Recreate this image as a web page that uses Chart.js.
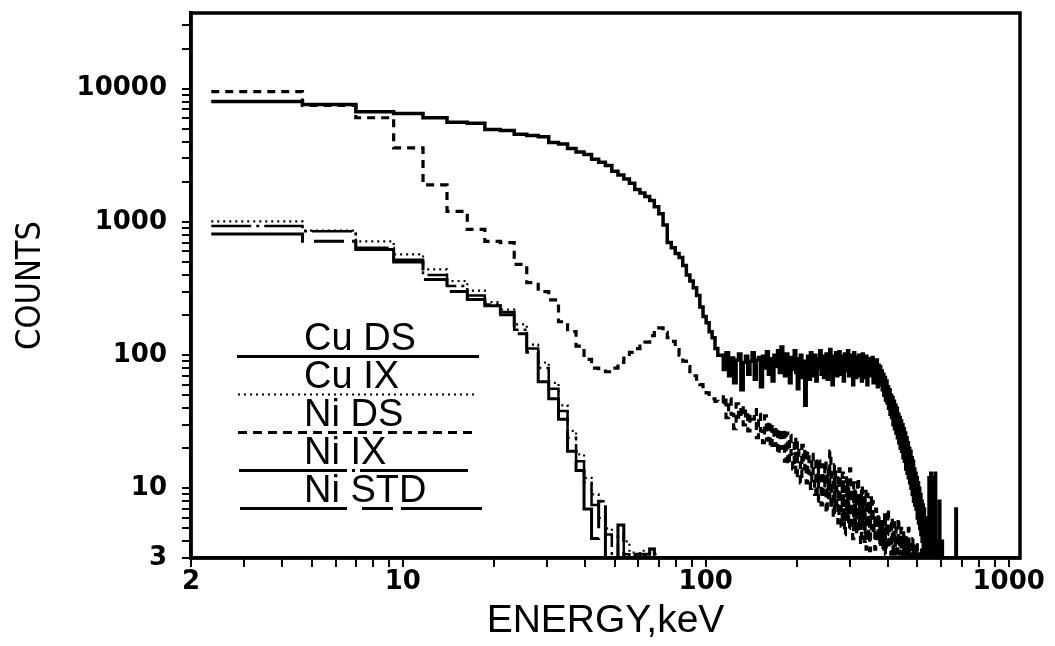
<!DOCTYPE html>
<html>
<head>
<meta charset="utf-8">
<script src="https://cdn.jsdelivr.net/npm/chart.js@4.4.0/dist/chart.umd.min.js"></script>
<style>
html,body{margin:0;padding:0;background:#fff;}
#wrap{width:1055px;height:646px;position:relative;}
</style>
</head>
<body>
<div id="wrap"><canvas id="c" width="1055" height="646"></canvas></div>
<script>
// ---- DATA (histogram bins, each BIN_WIDTH_KEV wide, first bin starts at FIRST_BIN*BIN_WIDTH_KEV) ----
const BIN_WIDTH_KEV = 2.333;
const FIRST_BIN = 1;

const SERIES_NAMES = ['Cu DS', 'Cu IX', 'Ni DS', 'Ni IX', 'Ni STD'];

const cuDS = [
  8000, 7600, 6700, 6500, 6050, 5600, 5500, 4950, 4850, 4550,
  4450, 4350, 3950, 3850, 3550, 3350, 3200, 2950, 2800, 2650,
  2400, 2250, 2100, 1950, 1750, 1650, 1550, 1450, 1300, 1150,
  950, 700, 640, 580, 540, 470, 400, 360, 320, 280,
  230, 195, 175, 150, 135, 112, 100,
  100, 78, 104, 70, 95, 62, 92, 102, 55, 88, 98, 72, 90,
  104, 66, 92, 96, 58, 98, 80, 106, 72, 94, 64, 100, 82, 108, 74,
  115, 80, 70, 102, 90, 62, 96, 78, 108, 74, 56, 94, 100, 68, 90,
  42, 88, 98, 66, 104, 84, 70, 100, 64, 94, 80, 108, 72, 98, 68,
  94, 102, 66, 90, 110, 76, 60, 98, 82, 104, 70, 92, 106, 72, 90,
  98, 64, 102, 86, 76, 108, 70, 96, 74, 100, 60, 104, 88, 68, 96,
  82, 100, 70, 94, 64, 102, 78, 92, 68, 98, 60, 94, 80, 72, 92,
  70, 96, 62, 90, 76, 66, 92, 58, 84, 64,
  82, 60, 76, 55, 72, 50, 68, 46, 64, 44,
  58, 40, 55, 36, 50, 34, 48, 30, 45, 28,
  42, 26, 40, 24, 36, 22, 34, 20, 32, 19,
  30, 17, 28, 16, 26, 14, 24, 13, 22, 12,
  20, 11, 19, 10, 17, 9, 16, 8, 14, 7.5,
  13, 7, 12, 6, 11, 5.5, 10, 5, 9, 4.5,
  8, 4, 7.5, 3.6, 7, 3.3, 6, 3.2, 5.5, 1,
  4.5, 1, 4, 12, 3.5, 1, 13, 3.2, 1, 4,
  1, 12, 3.5, 1, 13, 1, 3.2, 1, 4, 1,
  3.5, 1, 8, 1, 3.2, 1, 1, 4, 1, 1,
  1, 1, 1, 1, 1, 1, 1, 1, 1, 1,
  1, 1, 1, 1, 1, 1, 1, 1, 1, 1,
  1, 1, 1, 1, 1, 1, 7, 1
];

const cuIX = [
  1010, 860, 715, 570, 440, 360, 305, 250, 220, 170,
  120, 88, 62, 42, 27, 18, 12, 9, 6, 5,
  4.4, 5.3, 4, 3.3, 1, 3.4, 1, 1, 3.2, 1
];

const niDS = [
  9500, 7500, 6050, 3600, 1900, 1200, 880, 715, 700, 480,
  350, 300, 260, 178, 150, 117, 93,
  80, 76, 75, 80, 88, 95, 105, 112, 117, 125, 140, 155, 160,
  148, 135, 127, 110, 100, 90, 82, 75, 70, 64, 60, 56, 52, 49, 47, 45, 44,
  44, 50, 34, 47, 36, 28, 43, 33, 42, 30, 39, 27, 36,
  33, 39, 24, 36, 27, 22, 35, 23, 32, 20, 30, 21, 29, 18, 28,
  20, 28, 16, 26, 15, 25, 18, 14, 24, 12, 22, 16, 11, 21, 14,
  20, 11, 19, 13, 10, 18, 12, 9, 17, 8, 16, 10, 7.5, 15, 9,
  16, 6.5, 14, 8.5, 19, 7, 13, 6, 15, 7, 12, 5.5, 14, 7.5, 5.2,
  13, 6.5, 4.5, 12, 6, 11, 5, 14, 5.5, 10, 4.2, 11, 5, 9.5, 4.5,
  12, 5, 9, 3.8, 10.5, 5, 8.5, 4, 9.5, 3.5, 9, 4.5, 8, 3.4, 8.5,
  5, 8, 4.5, 6, 3.5, 7, 5, 4, 6.5, 3.8, 5.5, 4.5, 6, 3.5, 5,
  4, 6.5, 3.2, 5, 4.5, 7, 3.5, 5, 4, 3.2, 6, 4.5, 3.5, 5.5, 3.2,
  4.5, 5, 3.3, 4, 6, 3.2, 4.5, 3.5, 5, 3.2, 4, 1, 4.8, 3.5, 3.2,
  4.5, 1, 3.8, 3.2, 5, 1, 3.5, 4, 1, 3.3, 1, 4.2, 3.2, 1, 3.5,
  1, 3.2, 4, 1, 3.4, 1, 1, 3.2, 1, 3.6, 1, 1, 3.2, 1, 1
];

const niIX = [
  930, 850, 640, 520, 400, 330, 280, 240, 200, 155,
  112, 80, 56, 38, 24, 16, 11, 7.5, 8, 4.5,
  1, 4.5, 3.2, 1, 3.2, 1, 3.2, 3.5, 1, 1
];

const niSTD = [
  810, 715, 620, 500, 370, 300, 262, 235, 210, 145,
  105, 63, 47, 33, 19, 13.6, 7, 4.2, 8, 1,
  1, 5.3, 1, 3.2, 3.2, 3.2, 3.2, 3.5, 1, 1
];

const X_TICK_LABELS = [2, 10, 100, 1000];
const Y_TICK_LABELS = [3, 10, 100, 1000, 10000];

// ---- helpers ----
function toSteps(counts) {
  const pts = counts.map((c, i) => ({ x: (FIRST_BIN + i) * BIN_WIDTH_KEV, y: c }));
  pts.push({ x: (FIRST_BIN + counts.length) * BIN_WIDTH_KEV, y: counts[counts.length - 1] });
  return pts;
}
function logTicks(min, max) {
  const out = [];
  for (let d = 0; d <= 5; d++) {
    for (let m = 1; m <= 9; m++) {
      const v = m * Math.pow(10, d);
      if (v >= min - 1e-9 && v <= max + 1e-9) out.push(v);
    }
  }
  return out;
}

const X_MIN = 2, X_MAX = 1090, Y_MIN = 3, Y_MAX = 37000;

const legendStyles = [
  { dash: [], width: 3.2, x0: 237, x1: 479 },
  { dash: [2, 4], width: 2.2, x0: 238, x1: 475 },
  { dash: [9, 6], width: 3, x0: 238, x1: 472 },
  { dash: [108, 5, 3, 5], width: 3, x0: 239, x1: 472 },
  { dash: [107, 15, 31, 8, 90, 0], width: 3, x0: 240, x1: 482 }
];

const framePlugin = {
  id: 'frame',
  afterDatasetsDraw(chart) {
    const { ctx, chartArea: a } = chart;
    ctx.save();
    ctx.strokeStyle = '#000';
    ctx.lineWidth = 3.5;
    ctx.setLineDash([]);
    ctx.strokeRect(a.left, a.top, a.right - a.left, a.bottom - a.top);
    ctx.restore();
  }
};

const inlineLegend = {
  id: 'inlineLegend',
  afterDatasetsDraw(chart) {
    const ctx = chart.ctx;
    ctx.save();
    ctx.fillStyle = '#000';
    ctx.strokeStyle = '#000';
    ctx.font = "38px 'Liberation Sans', Arial, sans-serif";
    ctx.textBaseline = 'alphabetic';
    ctx.textAlign = 'left';
    SERIES_NAMES.forEach((name, i) => {
      const base = 350 + i * 38;
      ctx.fillText(name, 304, base);
      const s = legendStyles[i];
      ctx.lineWidth = s.width;
      ctx.setLineDash(s.dash);
      ctx.beginPath();
      ctx.moveTo(s.x0, base + 6.5);
      ctx.lineTo(s.x1, base + 6.5);
      ctx.stroke();
    });
    ctx.restore();
  }
};

const common = { pointRadius: 0, stepped: 'before', borderColor: '#000', fill: false, tension: 0 };

new Chart(document.getElementById('c'), {
  type: 'line',
  data: {
    datasets: [
      { ...common, label: SERIES_NAMES[0], data: toSteps(cuDS), borderWidth: 3.5 },
      { ...common, label: SERIES_NAMES[1], data: toSteps(cuIX), borderWidth: 2.2, borderDash: [2, 4] },
      { ...common, label: SERIES_NAMES[2], data: toSteps(niDS), borderWidth: 3.2, borderDash: [8, 6] },
      { ...common, label: SERIES_NAMES[3], data: toSteps(niIX), borderWidth: 2.5, borderDash: [40, 5, 3, 5] },
      { ...common, label: SERIES_NAMES[4], data: toSteps(niSTD), borderWidth: 3, borderDash: [100, 10, 30, 8] }
    ]
  },
  options: {
    responsive: false,
    animation: false,
    devicePixelRatio: 1,
    layout: { padding: { top: 13, right: 35, left: 0, bottom: 0 } },
    plugins: { legend: { display: false }, tooltip: { enabled: false }, title: { display: false } },
    scales: {
      x: {
        type: 'logarithmic',
        min: X_MIN, max: X_MAX,
        afterBuildTicks: s => { s.ticks = logTicks(X_MIN, X_MAX).map(v => ({ value: v })); },
        afterFit: s => { s.height = 88; s.paddingLeft = 0; s.paddingRight = 0; },
        ticks: {
          autoSkip: false, maxRotation: 0, minRotation: 0, padding: 0, color: '#000',
          font: { family: "'DejaVu Sans', sans-serif", size: 26, weight: 'bold' },
          callback: v => X_TICK_LABELS.includes(v) ? String(v) : ''
        },
        grid: { drawOnChartArea: false, drawTicks: true, tickLength: 9, color: '#000', lineWidth: 2 },
        border: { display: true, color: '#000', width: 3.5 },
        title: {
          display: true, text: 'ENERGY,keV', color: '#000',
          font: { family: "'Liberation Sans', Arial, sans-serif", size: 39 },
          padding: { top: 0, bottom: 1 }
        }
      },
      y: {
        type: 'logarithmic',
        min: Y_MIN, max: Y_MAX,
        afterBuildTicks: s => { s.ticks = logTicks(Y_MIN, Y_MAX).map(v => ({ value: v })); },
        afterFit: s => { s.width = 191; s.paddingTop = 0; s.paddingBottom = 0; },
        ticks: {
          autoSkip: false, padding: 15, color: '#000',
          font: { family: "'DejaVu Sans', sans-serif", size: 26, weight: 'bold' },
          callback: v => Y_TICK_LABELS.includes(v) ? String(v) : ''
        },
        grid: { drawOnChartArea: false, drawTicks: true, tickLength: 9, color: '#000', lineWidth: 2 },
        border: { display: true, color: '#000', width: 3.5 },
        title: {
          display: true, text: 'COUNTS', color: '#000',
          font: { family: "'Liberation Sans Narrow', 'DejaVu Sans Condensed', 'Liberation Sans', sans-serif", size: 34 },
          padding: { top: 11, bottom: 0 }
        }
      }
    }
  },
  plugins: [framePlugin, inlineLegend]
});
</script>
</body>
</html>
